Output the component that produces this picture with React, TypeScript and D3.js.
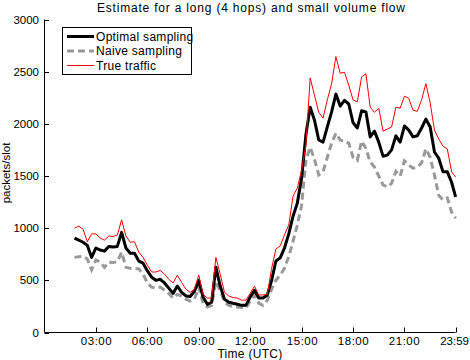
import React from "react";
import * as d3 from "d3";

// sample times (UTC), every 15 minutes
const times = [
  "01:45", "02:00", "02:15", "02:30", "02:45", "03:00", "03:15", "03:30", "03:45", "04:00",
  "04:15", "04:30", "04:45", "05:00", "05:15", "05:30", "05:45", "06:00", "06:15", "06:30",
  "06:45", "07:00", "07:15", "07:30", "07:45", "08:00", "08:15", "08:30", "08:45", "09:00",
  "09:15", "09:30", "09:45", "10:00", "10:15", "10:30", "10:45", "11:00", "11:15", "11:30",
  "11:45", "12:00", "12:15", "12:30", "12:45", "13:00", "13:15", "13:30", "13:45", "14:00",
  "14:15", "14:30", "14:45", "15:00", "15:15", "15:30", "15:45", "16:00", "16:15", "16:30",
  "16:45", "17:00", "17:15", "17:30", "17:45", "18:00", "18:15", "18:30", "18:45", "19:00",
  "19:15", "19:30", "19:45", "20:00", "20:15", "20:30", "20:45", "21:00", "21:15", "21:30",
  "21:45", "22:00", "22:15", "22:30", "22:45", "23:00", "23:15", "23:30", "23:45", "23:59",
];

const trueTraffic = [
  1000, 1020, 990, 870, 945, 945, 905, 885, 925, 920,
  935, 1080, 925, 865, 870, 770, 720, 645, 580, 580,
  595, 560, 510, 475, 550, 480, 415, 385, 415, 550,
  365, 330, 330, 720, 560, 385, 350, 335, 330, 310,
  310, 375, 445, 360, 360, 365, 615, 800, 830, 935,
  1030, 1307, 1385, 1555, 1795, 2440, 2275, 2110, 2055, 2230,
  2385, 2645, 2485, 2495, 2370, 2230, 2210, 2450, 2480, 2160,
  2110, 2150, 1930, 1950, 1970, 2160, 2150, 2265, 2245, 2130,
  2120, 2230, 2385, 2200, 1940, 1855, 1785, 1760, 1540, 1490,
];

const optimalSampling = [
  905, 885, 865, 835, 720, 810, 790, 780, 825, 820,
  825, 960, 810, 760, 760, 685, 665, 590, 530, 500,
  510, 475, 425, 375, 445, 385, 350, 345, 395, 500,
  340, 270, 290, 625, 445, 320, 290, 280, 270, 260,
  260, 340, 405, 330, 330, 360, 500, 685, 715, 810,
  945, 1115, 1240, 1480, 1895, 2160, 2035, 1845, 1825, 1970,
  2115, 2285, 2170, 2225, 2190, 2010, 1960, 2125, 2115, 1875,
  1930, 1825, 1690, 1700, 1750, 1885, 1825, 1980, 1940, 1875,
  1885, 1960, 2045, 1970, 1730, 1670, 1540, 1540, 1440, 1300,
];

const naiveSampling = [
  720, 725, 730, 705, 600, 695, 675, 625, 675, 670,
  680, 770, 625, 615, 615, 610, 560, 475, 435, 425,
  435, 405, 375, 330, 365, 350, 320, 300, 320, 435,
  280, 245, 260, 490, 405, 290, 260, 250, 245, 240,
  235, 300, 360, 280, 260, 310, 415, 500, 550, 615,
  730, 875, 1030, 1220, 1650, 1775, 1660, 1510, 1540, 1680,
  1815, 1910, 1845, 1835, 1815, 1680, 1650, 1835, 1765, 1635,
  1585, 1500, 1415, 1395, 1430, 1545, 1500, 1645, 1605, 1575,
  1585, 1625, 1760, 1680, 1510, 1315, 1270, 1290, 1155, 1095,
];

const xTickLabels = ["03:00", "06:00", "09:00", "12:00", "15:00", "18:00", "21:00", "23:59"];
const yTicks = [0, 500, 1000, 1500, 2000, 2500, 3000];

const toMinutes = (s: string) => {
  const [h, m] = s.split(":").map(Number);
  return h * 60 + m;
};

export default function App() {
  const width = 470;
  const height = 360;
  const font = "'Liberation Sans', Arial, Helvetica, sans-serif";

  const x = d3.scaleLinear().domain([0, 1439]).range([44.5, 455.6]);
  const y = d3.scaleLinear().domain([0, 3000]).range([332.5, 19.5]);

  const mins = times.map(toMinutes);
  const line = d3
    .line<number>()
    .x((d, i) => x(mins[i]))
    .y((d) => y(d));

  const legendRows = [
    { label: "Optimal sampling", color: "#000", w: 3, dash: "none" },
    { label: "Naive sampling", color: "#999", w: 3, dash: "7,4" },
    { label: "True traffic", color: "#f00", w: 1, dash: "none" },
  ];

  return (
    <svg
      width={width}
      height={height}
      style={{ position: "absolute", left: 0, top: 0, background: "#fff" }}
      fontFamily={font}
      fontSize={11}
    >
      <rect width={width} height={height} fill="#fff" />
      {/* title */}
      <text x={97} y={12} fontSize={12} textLength={308} lengthAdjust="spacing">
        Estimate for a long (4 hops) and small volume flow
      </text>

      {/* data */}
      <path d={line(naiveSampling) || ""} fill="none" stroke="#999" strokeWidth={3} strokeDasharray="7,4" />
      <path d={line(optimalSampling) || ""} fill="none" stroke="#000" strokeWidth={3} strokeLinejoin="round" />
      <path d={line(trueTraffic) || ""} fill="none" stroke="#f00" strokeWidth={1} />

      {/* axes */}
      <line x1={44.5} x2={44.5} y1={y(3000)} y2={y(0)} stroke="#000" />
      <line x1={44.5} x2={455.6} y1={332.5} y2={332.5} stroke="#000" />
      {yTicks.map((t) => (
        <g key={t}>
          <line x1={44.5} x2={49} y1={Math.round(y(t)) + 0.5} y2={Math.round(y(t)) + 0.5} stroke="#000" />
          <text x={39} y={y(t) + 4} textAnchor="end" fontSize={11.5}>
            {t}
          </text>
        </g>
      ))}
      {xTickLabels.map((t, i) => {
        const px = Math.round(x(toMinutes(t))) + 0.5;
        // last label would run past the right edge, so pin it to the edge
        const last = i === xTickLabels.length - 1;
        return (
          <g key={t}>
            <line x1={px} x2={px} y1={332.5} y2={327.5} stroke="#000" />
            <text
              x={last ? 469 : px}
              y={345}
              textAnchor={last ? "end" : "middle"}
              fontSize={11.5}
              letterSpacing={last ? 0 : 0.5}
            >
              {t}
            </text>
          </g>
        );
      })}
      <text x={250} y={357.5} textAnchor="middle" fontSize={12} letterSpacing={0.3}>
        Time (UTC)
      </text>
      <text transform="translate(10,173) rotate(-90)" textAnchor="middle" fontSize={11.5}>
        packets/slot
      </text>

      {/* legend */}
      <rect x={62.5} y={27.5} width={129} height={47} fill="#fff" stroke="#000" />
      {legendRows.map((r, i) => (
        <g key={r.label}>
          <line
            x1={67}
            x2={94}
            y1={36.5 + i * 14.5}
            y2={36.5 + i * 14.5}
            stroke={r.color}
            strokeWidth={r.w}
            strokeDasharray={r.dash}
          />
          <text x={96} y={40.5 + i * 14.5} fontSize={12} letterSpacing={0.3}>
            {r.label}
          </text>
        </g>
      ))}
    </svg>
  );
}
